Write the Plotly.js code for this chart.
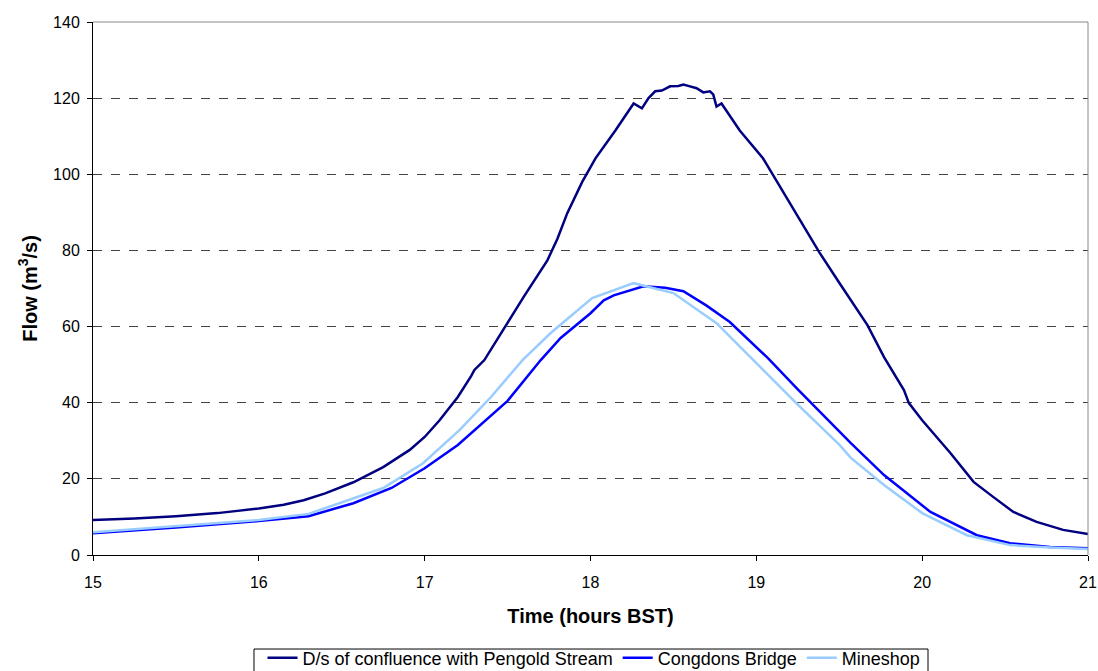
<!DOCTYPE html>
<html>
<head>
<meta charset="utf-8">
<script src="https://cdn.plot.ly/plotly-3.0.1.min.js"></script>
<style>body{margin:0;padding:0;background:#fff;}#chart{width:1098px;height:671px;}</style>
</head>
<body>
<div id="chart"></div>
<script>
const seriesNames = ["D/s of confluence with Pengold Stream", "Congdons Bridge", "Mineshop"];

const dsTime = [15.0,15.25,15.5,15.75,16.0,16.15,16.27,16.4,16.57,16.75,16.91,17.0,17.09,17.2,17.28,17.3,17.36,17.47,17.6,17.74,17.8,17.86,17.95,18.03,18.15,18.26,18.31,18.35,18.39,18.43,18.48,18.53,18.56,18.6,18.64,18.68,18.72,18.74,18.76,18.79,18.9,19.04,19.2,19.38,19.5,19.57,19.67,19.77,19.89,19.92,20.0,20.17,20.31,20.43,20.55,20.69,20.85,21.0];
const dsFlow = [9.2,9.6,10.2,11.0,12.2,13.2,14.4,16.2,19.1,23.1,27.6,31,35.4,41.5,47,48.6,51.2,59,68,77.4,83,89.8,98,104.2,111.5,118.6,117.3,120,121.8,122,123.1,123.2,123.6,123.1,122.6,121.5,121.8,121,117.8,118.6,111.5,104.2,92.5,79.5,71.5,66.9,60.4,52,43.3,39.9,35.4,26.8,19.2,15.2,11.3,8.7,6.6,5.5];

const cbTime = [15.0,15.5,16.0,16.3,16.57,16.8,17.0,17.2,17.5,17.7,17.82,18.0,18.08,18.14,18.32,18.45,18.56,18.7,18.84,19.07,19.25,19.5,19.57,19.77,20.05,20.33,20.53,20.77,21.0];
const cbFlow = [5.7,7.2,8.9,10.2,13.6,17.6,22.8,28.9,40.5,51.2,57,63.5,66.9,68.2,70.6,70.2,69.3,65.5,61.2,51.7,43.5,32.5,29.4,21,11.3,5.2,3.1,2.1,1.8];

const msTime = [15.0,15.5,16.0,16.3,16.57,16.75,16.99,17.21,17.4,17.59,17.76,18.01,18.26,18.5,18.76,18.97,19.25,19.5,19.57,19.77,20.0,20.27,20.53,20.77,21.0];
const msFlow = [6.0,7.6,9.2,10.8,15.0,17.6,24.1,32.8,41.5,51.2,58.3,67.5,71.4,68.8,60.9,51.7,39.5,29,25.5,18.4,11.0,5.2,2.6,2.0,1.6];

const colors = ["#000080", "#0000FF", "#99CCFF"];

const traces = [
  {x: dsTime, y: dsFlow, name: seriesNames[0], mode: "lines", line: {color: colors[0], width: 2.5}},
  {x: cbTime, y: cbFlow, name: seriesNames[1], mode: "lines", line: {color: colors[1], width: 2.5}},
  {x: msTime, y: msFlow, name: seriesNames[2], mode: "lines", line: {color: colors[2], width: 2.5}}
];

const font = "Liberation Sans, Arial, sans-serif";

const layout = {
  width: 1098, height: 671,
  margin: {l: 93, r: 10, t: 22, b: 116, autoexpand: false},
  paper_bgcolor: "#fff", plot_bgcolor: "#fff",
  font: {family: font, size: 16, color: "#000"},
  showlegend: true,
  legend: {orientation: "h", x: 0.541, xanchor: "center", xref: "container", y: 0.047, yanchor: "top", yref: "container",
           borderwidth: 0, bgcolor: "rgba(0,0,0,0)",
           font: {family: font, size: 18, color: "#000"}, itemwidth: 30, tracegroupgap: 0},
  xaxis: {range: [15, 21], dtick: 1, tick0: 15, showgrid: false, zeroline: false, automargin: false,
          showline: true, linecolor: "#000", linewidth: 1, ticks: "outside", ticklen: 5, tickcolor: "#000",
          tickfont: {family: font, size: 16}, ticklabelstandoff: 8,
          title: {text: "<b>Time (hours BST)</b>", font: {family: font, size: 20}, standoff: 18}},
  yaxis: {range: [0, 140], dtick: 20, showgrid: true, gridcolor: "#444", griddash: "dash", gridwidth: 1,
          zeroline: false, showline: true, linecolor: "#000", linewidth: 1, ticks: "outside", ticklen: 5, tickcolor: "#000", automargin: false,
          tickfont: {family: font, size: 16}, ticklabelstandoff: 4,
          title: {text: "<b>Flow (m<sup>3</sup>/s)</b>", font: {family: font, size: 20}, standoff: 10}},
  shapes: [
    {type: "line", xref: "paper", yref: "paper", x0: 0, x1: 1, y0: 1, y1: 1, line: {color: "#888", width: 1}},
    {type: "line", xref: "paper", yref: "paper", x0: 1, x1: 1, y0: 0, y1: 1, line: {color: "#888", width: 1}},
    {type: "rect", xref: "paper", yref: "paper", x0: 0.1618, x1: 0.8392, y0: -0.1764, y1: -0.2195,
     line: {color: "#000", width: 1}, fillcolor: "rgba(0,0,0,0)", layer: "above"}
  ]
};

Plotly.newPlot("chart", traces, layout, {displayModeBar: false, staticPlot: true});
</script>
</body>
</html>
